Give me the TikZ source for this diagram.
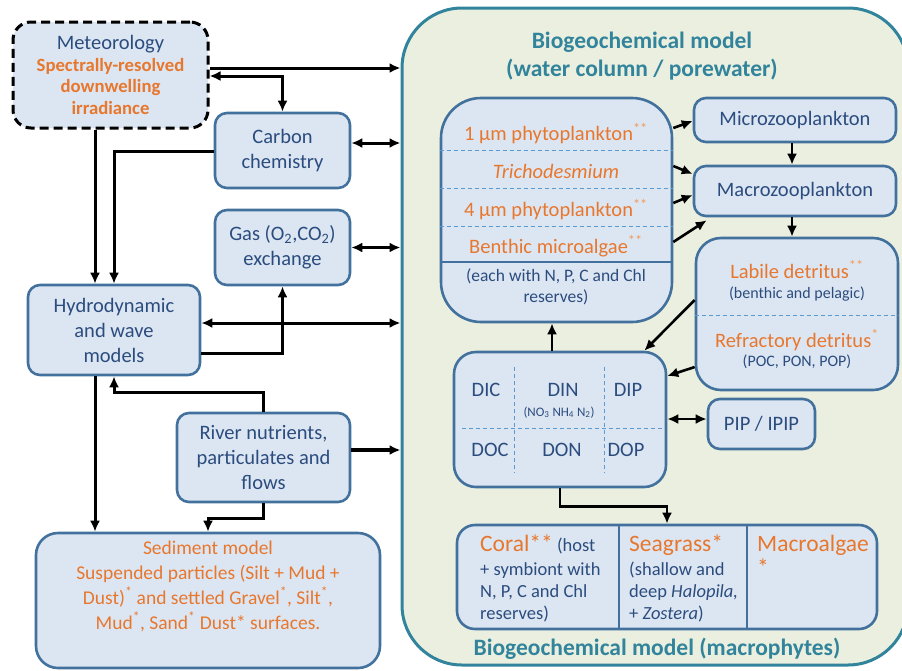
\documentclass[tikz,border=0pt]{standalone}
\usepackage{fontspec}
\setmainfont{Carlito}
\usepackage{tikz}
\usetikzlibrary{positioning}
\usetikzlibrary{arrows.meta}
\definecolor{boxfill}{HTML}{DCE6F2}
\definecolor{boxline}{HTML}{41719C}
\definecolor{txtblue}{HTML}{2B4C7E}
\definecolor{orng}{HTML}{E8772E}
\definecolor{starorng}{HTML}{F29B5C}
\definecolor{bgcline}{HTML}{31849B}
\definecolor{bgcfill}{HTML}{EBEFDF}
\definecolor{dashblue}{HTML}{5B9BD5}
\newcommand{\starz}[1]{\textsuperscript{\textcolor{starorng}{#1}}}

\begin{document}
\begin{tikzpicture}[x=1pt,y=-1pt,
  box/.style={draw=boxline,fill=boxfill,line width=2.6pt,rounded corners=12pt,inner sep=0pt,align=center,text=txtblue,font=\fontsize{20.5}{25}\selectfont},
  txt/.style={align=center,text=txtblue,inner sep=0pt,font=\fontsize{20.5}{25}\selectfont},
  otxt/.style={txt,text=orng},
  sml/.style={txt,font=\fontsize{16}{19}\selectfont},
  mtxt/.style={txt,anchor=base west,font=\fontsize{18.5}{22}\selectfont},
  big/.style={font=\fontsize{23.5}{28}\selectfont},
  ttl/.style={txt,text=bgcline,font=\bfseries\fontsize{23.5}{28}\selectfont},
  divline/.style={draw=dashblue,line width=1pt,dash pattern=on 4pt off 3pt},
  arr/.style={-{Latex[length=11pt,width=10pt]},line width=3pt},
  arrs/.style={{Latex[length=11pt,width=10pt]}-{Latex[length=11pt,width=10pt]},line width=3pt}]
  \useasboundingbox (0,0) rectangle (902,670);

  \node[draw=bgcline,fill=bgcfill,line width=3pt,rounded corners=60pt,minimum width=506pt,minimum height=657pt] (bgc) at (655,336.5) {};
  \node[ttl,anchor=north] (ttltop) at (642,32) {Biogeochemical model\\(water column / porewater)};
  \node[ttl,anchor=base] (ttlbot) at (657,655) {Biogeochemical model (macrophytes)};

  \node[box,draw=black,line width=3pt,dash pattern=on 9pt off 5pt,rounded corners=18pt,minimum width=195pt,minimum height=106pt,font=\fontsize{18.7}{21.7}\selectfont] (met) at (110.5,75) {{\fontsize{20.5}{25}\selectfont Meteorology}\\\textcolor{orng}{\bfseries Spectrally-resolved}\\\textcolor{orng}{\bfseries downwelling}\\\textcolor{orng}{\bfseries irradiance}};
  \node[box,minimum width=135pt,minimum height=75pt] (carb) at (282.5,150.5) {Carbon\\chemistry};
  \node[box,minimum width=135pt,minimum height=75pt] (gas) at (282.5,247.5) {Gas (O\textsubscript{2},CO\textsubscript{2})\\exchange};
  \node[box,minimum width=172pt,minimum height=90pt] (hydro) at (114,330) {Hydrodynamic\\and wave\\models};
  \node[box,minimum width=173pt,minimum height=89pt] (river) at (263.5,457.5) {River nutrients,\\particulates and\\flows};
  \node[box,rounded corners=22pt,minimum width=344pt,minimum height=135pt] (sed) at (208,600.5) {};
  \node[otxt,font=\fontsize{19.5}{25}\selectfont,below=9pt of sed.north] (sedtxt) {Sediment model\\Suspended particles (Silt + Mud +\\Dust)\textsuperscript{*} and settled Gravel\textsuperscript{*}, Silt\textsuperscript{*},\\Mud\textsuperscript{*}, Sand\textsuperscript{*} Dust* surfaces.};

  \node[box,rounded corners=40pt,minimum width=231pt,minimum height=224pt] (phyto) at (556.5,210) {};
  \draw[divline] (phyto.west |- 0,150) -- (phyto.east |- 0,150);
  \draw[divline] (phyto.west |- 0,188) -- (phyto.east |- 0,188);
  \draw[divline] (phyto.west |- 0,226) -- (phyto.east |- 0,226);
  \draw[boxline,line width=2pt] (phyto.west |- 0,262) -- (phyto.east |- 0,262);
  \node[otxt,anchor=base] (p1) at (556,140.7) {1 µm phytoplankton\starz{**}};
  \node[otxt,anchor=base] (p2) at (556,178) {\textit{Trichodesmium}};
  \node[otxt,anchor=base] (p3) at (556,216.7) {4 µm phytoplankton\starz{**}};
  \node[otxt,anchor=base] (p4) at (556,253) {Benthic microalgae\starz{**}};
  \node[txt,font=\fontsize{17.5}{21}\selectfont,anchor=base] (p5) at (556,281.7) {(each with N, P, C and Chl};
  \node[txt,font=\fontsize{17.5}{21}\selectfont,anchor=base] (p6) at (556,302) {reserves)};

  \node[box,minimum width=202pt,minimum height=44pt] (micro) at (795,120) {Microzooplankton};
  \node[box,minimum width=202pt,minimum height=50pt] (macro) at (795,191) {Macrozooplankton};

  \node[box,rounded corners=25pt,minimum width=202pt,minimum height=152pt] (det) at (797,314) {};
  \draw[divline] (det.west |- 0,315) -- (det.east |- 0,315);
  \node[otxt,anchor=base] (lab) at (797,278.3) {Labile detritus\starz{**}};
  \node[sml,anchor=base] (labsub) at (797,298) {(benthic and pelagic)};
  \node[otxt,anchor=base] (ref) at (797,347) {Refractory detritus\starz{*}};
  \node[sml,anchor=base] (refsub) at (797,366.7) {(POC, PON, POP)};

  \node[box,rounded corners=22pt,minimum width=212pt,minimum height=135pt] (diss) at (560,419.5) {};
  \draw[divline] (514,367) -- (514,473);
  \draw[divline] (604,367) -- (604,473);
  \draw[divline] (462,428) -- (662,428);
  \node[txt,anchor=base] (dic) at (486,396.7) {DIC};
  \node[txt,anchor=base] (din) at (563,396.7) {DIN};
  \node[txt,font=\fontsize{13}{15}\selectfont,anchor=base] (dinsub) at (559,416) {(NO\textsubscript{3} NH\textsubscript{4} N\textsubscript{2})};
  \node[txt,anchor=base] (dip) at (628,396.7) {DIP};
  \node[txt,anchor=base] (doc) at (490,456) {DOC};
  \node[txt,anchor=base] (don) at (562,456) {DON};
  \node[txt,anchor=base] (dop) at (626,456) {DOP};
  \node[box,minimum width=107pt,minimum height=50pt] (pip) at (761.5,424) {PIP / IPIP};

  \node[box,rounded corners=18pt,minimum width=420pt,minimum height=104pt] (mac) at (667,577) {};
  \draw[boxline,line width=2.6pt] (mac.north -| 619,0) -- (mac.south -| 619,0);
  \draw[boxline,line width=2.6pt] (mac.north -| 747,0) -- (mac.south -| 747,0);
  \node[mtxt] (cor1) at (480,551) {\textcolor{orng}{\fontsize{23.5}{28}\selectfont Coral**} (host};
  \node[mtxt] (cor2) at (480,575) {+ symbiont with};
  \node[mtxt] (cor3) at (480,597) {N, P, C and Chl};
  \node[mtxt] (cor4) at (480,619) {reserves)};
  \node[mtxt,big,text=orng] (sea1) at (629,551) {Seagrass*};
  \node[mtxt] (sea2) at (629,575) {(shallow and};
  \node[mtxt] (sea3) at (629,597) {deep \textit{Halopila,}};
  \node[mtxt] (sea4) at (629,619) {+ \textit{Zostera})};
  \node[mtxt,big,text=orng] (alg1) at (757,551) {Macroalgae};
  \node[mtxt,big,text=orng] (alg2) at (757,575) {*};

  \draw[arr] (met.east |- 0,68) -- (bgc.west |- 0,68);
  \draw[arrs] (met.east |- 0,76) -| (carb.north);
  \draw[arrs] (carb.east |- 0,143) -- (bgc.west |- 0,143);
  \draw[arrs] (gas.east) -- (gas.east -| bgc.west);
  \draw[arr] (met.south -| 95,0) -- (hydro.north -| 95,0);
  \draw[arr] (carb.west |- 0,151) -| (hydro.north -| 114,0);
  \draw[arrs] (hydro.east |- 0,323) -- (bgc.west |- 0,323);
  \draw[arr] (hydro.east |- 0,353) -| (gas.south);
  \draw[arr] (river.north) -- ++(0,-19) -| (hydro.south -| 114,0);
  \draw[arr] (hydro.south -| 95,0) -- (sed.north -| 95,0);
  \draw[arr] (river.south) -- ++(0,15) -| (sed.north);
  \draw[arr,line width=3.6pt] (river.east |- 0,450) -- (bgc.west |- 0,450);

  \draw[arr,line width=2.6pt] (phyto.east |- 0,128) -- (micro.west |- 0,121);
  \draw[arr,line width=2.6pt] (phyto.east |- 0,166) -- (macro.west |- 0,174);
  \draw[arr,line width=2.6pt] (phyto.east |- 0,203) -- (macro.west |- 0,195);
  \draw[arr,line width=2.6pt] (phyto.east |- 0,242) -- ([xshift=14pt,yshift=-3pt]macro.south west);
  \draw[arr,line width=2.6pt] (micro.south -| 792,0) -- (macro.north -| 792,0);
  \draw[arr,line width=2.6pt] (macro.south -| 792,0) -- (det.north -| 792,0);
  \draw[arr,line width=2.6pt] (det.west |- 0,300) -- ([xshift=-23pt]diss.north east);
  \draw[arr,line width=2.6pt] (det.west |- 0,367) -- (diss.east |- 0,376);
  \draw[arrs,line width=2.6pt] (diss.east |- 0,419) -- (pip.west |- 0,419);
  \draw[arr,line width=2.6pt] (diss.north -| 552,0) -- (phyto.south -| 552,0);
  \draw[arr,line width=2.6pt] (diss.south) -- ++(0,18) -| (mac.north);
\end{tikzpicture}
\end{document}
